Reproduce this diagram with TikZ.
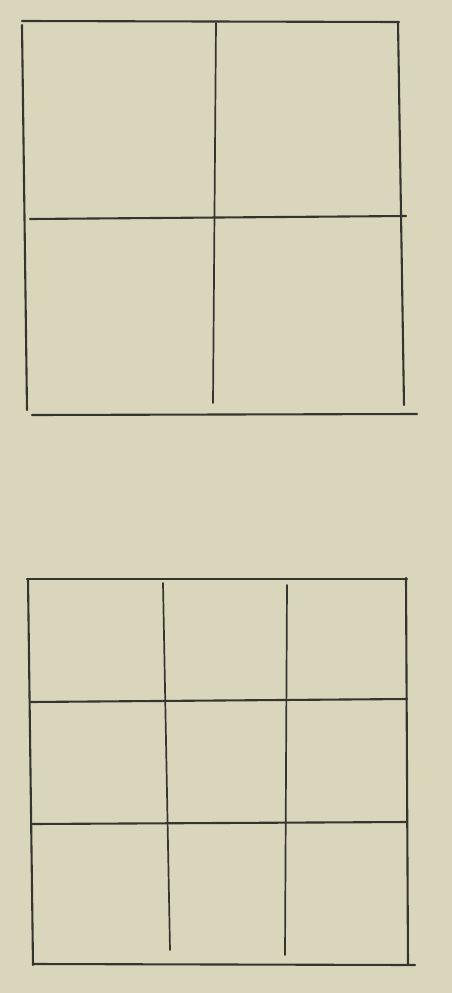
\documentclass[tikz,border=0pt]{standalone}
\definecolor{paper}{HTML}{DAD6BC}
\definecolor{ink}{HTML}{35352F}
\tikzset{pen/.style={draw=ink, line width=2.1pt, line cap=round}, thin pen/.style={draw=ink, line width=1.7pt, line cap=round}}
\begin{document}
\begin{tikzpicture}[x=1pt,y=-1pt]
\fill[paper] (0,0) rectangle (452,993);
\useasboundingbox (0,0) rectangle (452,993);
% top grid 2x2
\draw[pen] (22,21) -- (399,22);
\draw[pen] (22,25) -- (27,410);
\draw[pen] (32,415) -- (417,414);
\draw[pen] (398,22) -- (404,405);
\draw[thin pen] (216,23) -- (213,403);
\draw[pen] (30,219) -- (406,216);
% bottom grid 3x3
\draw[pen] (27,579) -- (407,579);
\draw[pen] (28,579) -- (33,965);
\draw[pen] (33,964) -- (415,965);
\draw[pen] (406,578) -- (408,964);
\draw[thin pen] (163,583) -- (170,950);
\draw[thin pen] (287,585) -- (285,955);
\draw[pen] (30,702) -- (407,699);
\draw[pen] (32,824) -- (407,822);
\end{tikzpicture}
\end{document}
